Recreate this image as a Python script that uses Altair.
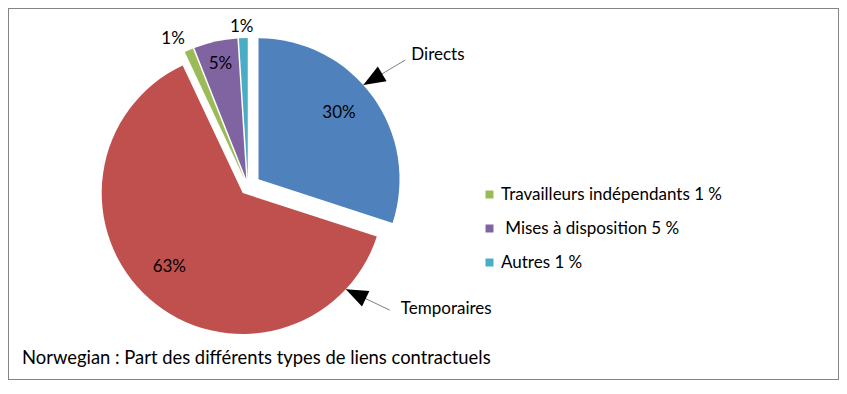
import math
import altair as alt
import pandas as pd

# ---- data ----
CATEGORIES = ["Directs", "Temporaires", "Travailleurs indépendants", "Mises à disposition", "Autres"]
SHARES = [30, 63, 1, 5, 1]
LEGEND_CATEGORIES = ["Travailleurs indépendants", "Mises à disposition", "Autres"]
LEGEND_TEXT = ["Travailleurs indépendants 1 %", "\u200b\u2005Mises à disposition 5 %", "Autres 1 %"]
ANNOTATED = ["Directs", "Temporaires"]
TITLE = "Norwegian : Part des différents types de liens contractuels"

# ---- styles ----
COLORS = ["#4f81bd", "#c0504d", "#9bbb59", "#8064a2", "#4bacc6"]
EXPLODE = [13, 8, 8, 8, 8]          # explosion distance of each slice (px)
LABEL_R = [104, 104, 158, 118, 152]  # distance of the % label from the slice tip (px)
LABEL_DA = [-3.3, 3.5, -3.6, 0, -0.5]  # angular nudge of the % label (deg)
ANNOT_ANGLE = [48, 133]              # where the callout arrow touches the slice (deg)
ANNOT_DX = [42, 44]                  # arrow tail offset from tip
ANNOT_DY = [-25, 21]
ANNOT_TX = [6, 11]                   # label offset from arrow tail
ANNOT_TY = [-5, -1]
FONT = "Lato"
FS = 17
TITLE_FS = 18.4
CX, CY, R = 240, 179, 141
TAU = 2 * math.pi

df = pd.DataFrame({
    "order": list(range(len(CATEGORIES))),
    "category": CATEGORIES,
    "share": SHARES,
    "explode": EXPLODE,
    "label_r": LABEL_R,
    "label_da": LABEL_DA,
})
ann_df = pd.DataFrame({
    "category": ANNOTATED,
    "ann_angle": ANNOT_ANGLE,
    "ann_dx": ANNOT_DX,
    "ann_dy": ANNOT_DY,
    "ann_tx": ANNOT_TX,
    "ann_ty": ANNOT_TY,
})
df = df.merge(ann_df, on="category", how="left")

label_expr = " : ".join(
    f"datum.label == '{c}' ? '{t}'" for c, t in zip(LEGEND_CATEGORIES, LEGEND_TEXT)
) + " : datum.label"

base = (
    alt.Chart(df)
    .transform_joinaggregate(total="sum(share)")
    .transform_window(cum="sum(share)", sort=[alt.SortField("order")])
    .transform_calculate(
        f0="(datum.cum - datum.share) / datum.total",
        f1="datum.cum / datum.total",
    )
    .transform_calculate(mid="PI * (datum.f0 + datum.f1)")
    .transform_calculate(
        vx=f"{CX} + datum.explode * sin(datum.mid)",
        vy=f"{CY} - datum.explode * cos(datum.mid)",
    )
)

X = lambda f: alt.X(f, scale=None, axis=None)
Y = lambda f: alt.Y(f, scale=None, axis=None)

pie = base.mark_arc(radius=R).encode(
    x=X("vx:Q"),
    y=Y("vy:Q"),
    theta=alt.Theta("f0:Q", scale=alt.Scale(domain=[0, 1], range=[0, TAU]), stack=None),
    theta2="f1:Q",
    color=alt.Color(
        "category:N",
        scale=alt.Scale(domain=CATEGORIES, range=COLORS),
        legend=alt.Legend(
            values=LEGEND_CATEGORIES,
            labelExpr=label_expr,
            orient="none",
            legendX=473,
            legendY=178,
            title=None,
            symbolType="square",
            symbolSize=64,
            symbolStrokeWidth=0,
            labelFont=FONT,
            labelFontSize=FS,
            labelColor="black",
            labelLimit=400,
            rowPadding=16,
            labelOffset=3,
            padding=0,
        ),
    ),
)

pct = base.transform_calculate(
    la="datum.mid + datum.label_da * PI / 180",
).transform_calculate(
    lx="datum.vx + datum.label_r * sin(datum.la)",
    ly="datum.vy - datum.label_r * cos(datum.la)",
    txt="datum.share + '%'",
).mark_text(font=FONT, fontSize=FS, color="black", baseline="middle", align="center").encode(
    x=X("lx:Q"), y=Y("ly:Q"), text="txt:N"
)

ann = (
    base.transform_filter("isValid(datum.ann_angle)")
    .transform_calculate(a="datum.ann_angle * PI / 180")
    .transform_calculate(
        tipx=f"datum.vx + {R} * sin(datum.a)",
        tipy=f"datum.vy - {R} * cos(datum.a)",
    )
    .transform_calculate(
        tailx="datum.tipx + datum.ann_dx",
        taily="datum.tipy + datum.ann_dy",
        head="(atan2(-datum.ann_dx, datum.ann_dy) * 180 / PI + 360) % 360",
    )
    .transform_calculate(
        tx="datum.tailx + datum.ann_tx",
        ty="datum.taily + datum.ann_ty",
    )
)

lines = ann.mark_rule(color="#7f7f7f", strokeWidth=1).encode(
    x=X("tipx:Q"), y=Y("tipy:Q"), x2="tailx:Q", y2="taily:Q"
)
heads = ann.mark_point(
    shape="M0,0L-0.39,1L0.39,1Z", filled=True, color="black", size=1936, opacity=1
).encode(x=X("tipx:Q"), y=Y("tipy:Q"), angle=alt.Angle("head:Q", scale=None))
names = ann.mark_text(font=FONT, fontSize=FS, color="black", align="left", baseline="middle").encode(
    x=X("tx:Q"), y=Y("ty:Q"), text="category:N"
)

chart = (
    alt.layer(pie, pct, lines, heads, names)
    .properties(
        width=831,
        height=372,
        padding=0,
        autosize=alt.AutoSizeParams(type="none"),
        title=alt.TitleParams(
            TITLE,
            orient="bottom",
            anchor="start",
            frame="group",
            offset=-31,
            dx=14,
            font=FONT,
            fontSize=TITLE_FS,
            fontWeight="normal",
            color="black",
        ),
    )
    .configure_view(stroke="#858585", strokeWidth=2)
)

chart.save("out.html", embed_options={"renderer": "svg", "actions": False})
